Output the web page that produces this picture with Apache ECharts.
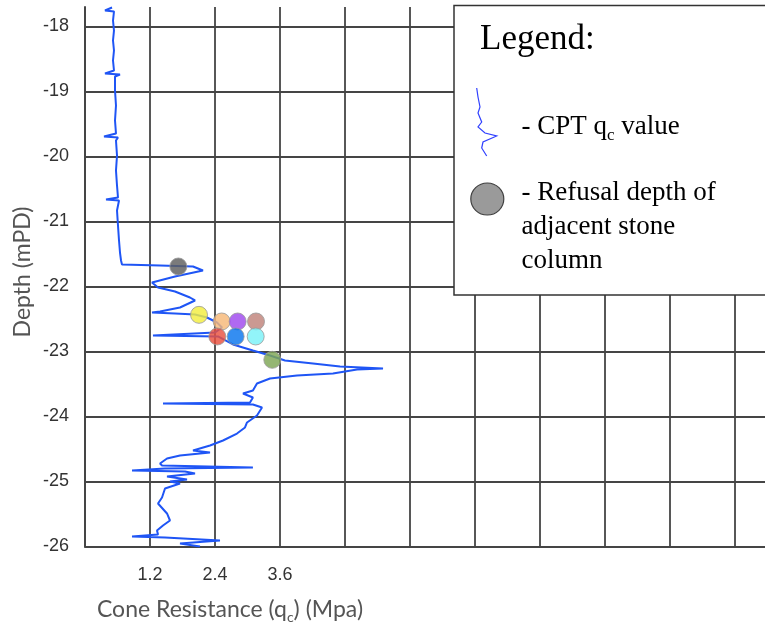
<!DOCTYPE html>
<html><head><meta charset="utf-8">
<script src="https://cdn.jsdelivr.net/npm/echarts@6/dist/echarts.min.js"></script>
<style>html,body{margin:0;padding:0;background:#fff}#c{width:765px;height:627px}</style>
</head><body><div id="c"></div>
<script>
// CPT cone resistance profile (qc in MPa vs depth in mPD)
const cptQc = [0.499,0.517,0.369,0.535,0.517,0.535,0.517,0.535,0.517,0.535,
  0.369,0.646,0.554,0.554,0.572,0.554,0.572,0.351,0.609,0.572,
  0.591,0.572,0.591,0.609,0.388,0.628,0.591,0.609,0.628,0.646,
  0.665,0.683,1.385,1.994,2.178,1.662,1.237,1.348,1.662,1.938,
  2.031,1.754,1.385,1.237,1.662,2.031,2.252,2.437,2.529,2.400,
  1.255,2.455,2.732,3.100,3.415,3.692,4.209,4.708,5.502,5.022,
  4.578,3.914,3.415,3.175,3.100,2.917,3.100,3.046,1.440,3.100,
  3.268,3.175,2.991,2.954,2.806,2.548,2.308,1.994,2.308,1.754,
  1.514,1.385,1.422,3.100,1.477,0.868,1.846,2.031,1.514,1.883,
  1.569,1.754,1.477,1.422,1.348,1.514,1.569,1.440,1.329,1.348,
  0.868,1.477,2.492,1.754,2.123];
const cptDepth = [-17.708,-17.738,-17.754,-17.769,-17.908,-18.062,-18.215,-18.369,-18.523,-18.677,
  -18.723,-18.738,-18.769,-18.985,-19.215,-19.446,-19.646,-19.692,-19.708,-19.754,
  -19.985,-20.215,-20.446,-20.631,-20.662,-20.677,-20.831,-21.062,-21.292,-21.477,
  -21.600,-21.662,-21.677,-21.692,-21.754,-21.846,-21.938,-22.015,-22.077,-22.169,
  -22.215,-22.323,-22.385,-22.400,-22.415,-22.431,-22.477,-22.554,-22.631,-22.708,
  -22.754,-22.769,-22.892,-22.985,-23.062,-23.138,-23.185,-23.231,-23.262,-23.277,
  -23.338,-23.369,-23.415,-23.492,-23.600,-23.646,-23.708,-23.785,-23.800,-23.815,
  -23.862,-23.985,-24.092,-24.169,-24.262,-24.369,-24.446,-24.523,-24.554,-24.600,
  -24.646,-24.723,-24.754,-24.785,-24.800,-24.831,-24.846,-24.877,-24.923,-24.969,
  -25.000,-25.031,-25.108,-25.246,-25.338,-25.492,-25.600,-25.677,-25.754,-25.815,
  -25.846,-25.862,-25.908,-25.954,-26.000];

// Refusal depths of adjacent stone columns
const refusalQc = [1.723,2.105,2.523,2.818,3.157,2.443,2.781,3.151,3.458];
const refusalDepth = [-21.692,-22.436,-22.538,-22.538,-22.538,-22.769,-22.769,-22.769,-23.128];
const refusalColors = ['#5e5e5e','#f3ee3e','#f7b878','#9f48ee','#c0837a','#e9503e','#0875ee','#7af2f8','#7ea654'];

const xTickLabels = ['1.2','2.4','3.6'];
const yTicks = [-26,-25,-24,-23,-22,-21,-20,-19,-18];

const GRID_COLOR = '#454545';

const chart = echarts.init(document.getElementById('c'), null, {renderer:'canvas'});

const cptData = cptQc.map((v,i)=>[v, cptDepth[i]]);
const refusalData = refusalQc.map((v,i)=>({
  value:[v, refusalDepth[i]],
  itemStyle:{color: refusalColors[i]}
}));

const splitColors = yTicks.map(()=>GRID_COLOR).concat(['rgba(0,0,0,0)']);

chart.setOption({
  animation:false,
  backgroundColor:'#fff',
  grid:{left:85, top:7, width:715, height:539.5, containLabel:false, outerBoundsMode:'none'},
  xAxis:{
    type:'value', min:0, max:13.2, interval:1.2,
    axisLine:{show:true, onZero:false, lineStyle:{color:GRID_COLOR, width:2}},
    axisTick:{show:false},
    splitLine:{show:true, lineStyle:{color:GRID_COLOR, width:1.8}},
    axisLabel:{
      margin:20, color:'#333', fontSize:18, fontFamily:'Liberation Sans',
      formatter:(v)=>{
        const s = v.toFixed(1);
        return xTickLabels.indexOf(s) >= 0 ? s : '';
      }
    }
  },
  yAxis:{
    type:'value', min:-26, max:-17.7, interval:1,
    axisLine:{show:true, onZero:false, lineStyle:{color:GRID_COLOR, width:2}},
    axisTick:{show:false},
    splitLine:{show:true, showMaxLine:false, lineStyle:{color:splitColors, width:1.8}},
    axisLabel:{
      margin:16, color:'#333', fontSize:18, fontFamily:'Liberation Sans',
      showMaxLabel:false,
      formatter:(v)=> yTicks.indexOf(Math.round(v*1000)/1000) >= 0 ? String(Math.round(v)) : ''
    }
  },
  series:[
    {
      name:'CPT qc value', type:'line', data:cptData, showSymbol:false,
      lineStyle:{color:'#1f55f5', width:2}, z:3, clip:true
    },
    {
      name:'Refusal depth of adjacent stone column', type:'scatter', data:refusalData,
      symbol:'circle', symbolSize:17,
      itemStyle:{opacity:0.82, borderColor:'#9a9a9a', borderWidth:1},
      z:4
    }
  ],
  graphic:[
    {type:'text', x:230, y:610, z:10,
     style:{text:'Cone Resistance (q{s|c}) (Mpa)', font:'23px Lato', fill:'#555',
       align:'center', verticalAlign:'middle', lineHeight:28,
       rich:{s:{fontSize:14, fontFamily:'Lato', fill:'#555', verticalAlign:'bottom', lineHeight:14}}}},
    {type:'text', x:23, y:272, rotation:Math.PI/2, z:10,
     style:{text:'Depth (mPD)', font:'23px Lato', fill:'#555', align:'center', verticalAlign:'middle'}},
    {type:'rect', z:20, shape:{x:454, y:5.5, width:400, height:289.5},
     style:{fill:'#fff', stroke:'#333', lineWidth:1.5}},
    {type:'text', x:480, y:40, z:21,
     style:{text:'Legend:', font:'35px "Liberation Serif"', fill:'#000', verticalAlign:'middle'}},
    {type:'polyline', z:21,
     shape:{points:[[476.7,88],[478,97],[480,107],[478,113],[481.7,122],[478,127],[485,133],[496.7,136],[483,142],[481.7,148],[486.7,156]]},
     style:{stroke:'#3040ff', lineWidth:1.2, fill:null}},
    {type:'text', x:521.5, y:127, z:21,
     style:{text:'- CPT q{s|c} value', font:'27px "Liberation Serif"', fill:'#000', verticalAlign:'middle', lineHeight:34,
       rich:{s:{fontSize:17, fontFamily:'Liberation Serif', fill:'#000', verticalAlign:'bottom', lineHeight:17}}}},
    {type:'ellipse', z:21, shape:{cx:487.3, cy:199, rx:16.5, ry:16},
     style:{fill:'#9a9a9a', stroke:'#404040', lineWidth:1.2}},
    {type:'text', x:521.5, y:193, z:21,
     style:{text:'- Refusal depth of', font:'27px "Liberation Serif"', fill:'#000', verticalAlign:'middle'}},
    {type:'text', x:521.5, y:227, z:21,
     style:{text:'adjacent stone', font:'27px "Liberation Serif"', fill:'#000', verticalAlign:'middle'}},
    {type:'text', x:521.5, y:261, z:21,
     style:{text:'column', font:'27px "Liberation Serif"', fill:'#000', verticalAlign:'middle'}}
  ]
});
</script>
</body></html>
